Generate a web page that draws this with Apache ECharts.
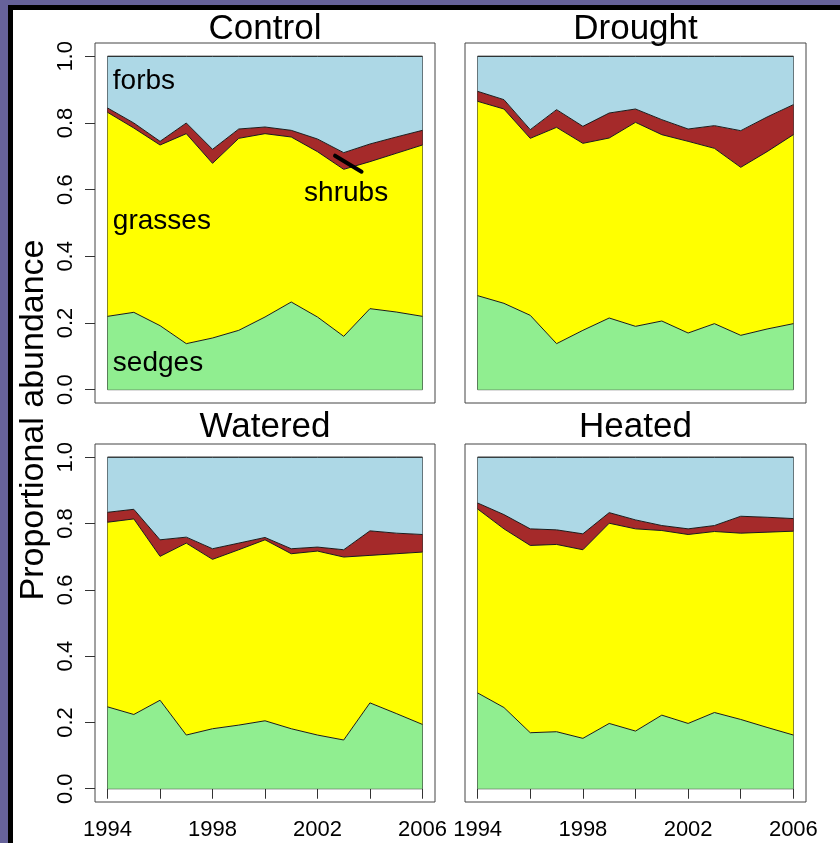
<!DOCTYPE html>
<html><head><meta charset="utf-8">
<script src="https://cdn.jsdelivr.net/npm/echarts@6/dist/echarts.min.js"></script>
<style>
html,body{margin:0;padding:0;width:840px;height:843px;overflow:hidden;background:#66629a;}
#frame{position:absolute;left:8px;top:5px;width:840px;height:850px;background:#fff;border-left:5px solid #000;border-top:5px solid #000;}
#chart{position:absolute;left:0;top:0;width:840px;height:843px;}
</style></head><body><div id="frame"></div><div id="chart"></div>
<script>
const years = [1994,1995,1996,1997,1998,1999,2000,2001,2002,2003,2004,2005,2006];
const yTicks = [0,0.2,0.4,0.6,0.8,1.0];
const xTicks = [1994,1996,1998,2000,2002,2004,2006];
const xLabels = [1994,1998,2002,2006];
const panelNames = ['Control','Drought','Watered','Heated'];
const groupNames = ['sedges','grasses','shrubs','forbs'];

const controlSedges  = [0.220,0.232,0.192,0.138,0.155,0.178,0.218,0.263,0.218,0.160,0.243,0.233,0.220];
const controlGrasses = [0.612,0.553,0.542,0.630,0.524,0.576,0.550,0.495,0.496,0.501,0.441,0.476,0.514];
const controlShrubs  = [0.013,0.015,0.011,0.032,0.042,0.028,0.020,0.020,0.038,0.050,0.053,0.049,0.044];
const controlForbs   = [0.155,0.200,0.255,0.200,0.279,0.218,0.212,0.222,0.248,0.289,0.263,0.242,0.222];

const droughtSedges  = [0.282,0.259,0.223,0.138,0.178,0.215,0.190,0.206,0.170,0.198,0.163,0.182,0.198];
const droughtGrasses = [0.583,0.583,0.531,0.649,0.561,0.540,0.612,0.559,0.575,0.526,0.504,0.532,0.567];
const droughtShrubs  = [0.030,0.028,0.026,0.053,0.051,0.075,0.040,0.045,0.037,0.068,0.110,0.104,0.090];
const droughtForbs   = [0.105,0.130,0.220,0.160,0.210,0.170,0.158,0.190,0.218,0.208,0.223,0.182,0.145];

const wateredSedges  = [0.247,0.224,0.267,0.162,0.181,0.192,0.205,0.181,0.162,0.147,0.259,0.227,0.194];
const wateredGrasses = [0.557,0.590,0.434,0.579,0.511,0.529,0.546,0.528,0.555,0.552,0.445,0.482,0.520];
const wateredShrubs  = [0.030,0.029,0.050,0.018,0.032,0.020,0.007,0.015,0.012,0.022,0.074,0.062,0.053];
const wateredForbs   = [0.166,0.157,0.249,0.241,0.276,0.259,0.242,0.276,0.271,0.279,0.222,0.229,0.233];

const heatedSedges   = [0.289,0.245,0.169,0.172,0.152,0.197,0.174,0.222,0.197,0.230,0.209,0.185,0.162];
const heatedGrasses  = [0.555,0.539,0.565,0.565,0.569,0.604,0.610,0.557,0.570,0.546,0.562,0.589,0.615];
const heatedShrubs   = [0.018,0.043,0.050,0.044,0.048,0.032,0.027,0.015,0.017,0.018,0.051,0.045,0.038];
const heatedForbs    = [0.138,0.173,0.216,0.219,0.231,0.167,0.189,0.206,0.216,0.206,0.178,0.181,0.185];

const panelData = [
  [controlSedges, controlGrasses, controlShrubs, controlForbs],
  [droughtSedges, droughtGrasses, droughtShrubs, droughtForbs],
  [wateredSedges, wateredGrasses, wateredShrubs, wateredForbs],
  [heatedSedges, heatedGrasses, heatedShrubs, heatedForbs]
];

const groupColors = ['#90EE90','#FFFF00','#A52A2A','#ADD8E6'];
const FONT = 'Liberation Sans, Arial, sans-serif';

const gridDefs = [
  {left:95, top:43, width:340, height:360},
  {left:465, top:43, width:341, height:360},
  {left:95, top:444, width:340, height:358},
  {left:465, top:444, width:341, height:358}
];
const titleDefs = [
  {left:265, top:12},{left:635.5, top:12},{left:265, top:410},{left:635.5, top:410}
];

const chart = echarts.init(document.getElementById('chart'), null, {renderer:'canvas'});

const grid = gridDefs.map(g => Object.assign({show:true, borderColor:'#444', borderWidth:1, backgroundColor:'transparent', containLabel:false}, g));

const xAxis = gridDefs.map((g,i) => ({
  type:'value', gridIndex:i, min:1993.52, max:2006.48,
  splitLine:{show:false}, axisLine:{show:false},
  axisTick:{show:i>=2, customValues:xTicks, length:10, lineStyle:{color:'#333', width:1}},
  axisLabel:{show:i>=2, customValues:xLabels, fontSize:22, color:'#000', fontFamily:FONT, margin:17, formatter:v=>String(v)}
}));
const yAxis = gridDefs.map((g,i) => ({
  type:'value', gridIndex:i, min:-0.04, max:1.04,
  splitLine:{show:false}, axisLine:{show:false},
  axisTick:{show:i%2===0, customValues:yTicks, length:10, lineStyle:{color:'#333', width:1}},
  axisLabel:{show:i%2===0, customValues:yTicks, rotate:90, fontSize:22, color:'#000', fontFamily:FONT, margin:18, formatter:v=>v.toFixed(1)}
}));

const series = [];
panelData.forEach((groups, i) => {
  groups.forEach((vals, gi) => {
    series.push({
      type:'line', name:groupNames[gi], xAxisIndex:i, yAxisIndex:i, stack:'panel'+i,
      // value first so that the stack is applied to the y dimension
      data: years.map((y,k)=>[vals[k], y]),
      encode:{x:1, y:0},
      symbol:'none', silent:true, animation:false,
      lineStyle:{color:'#1a1a1a', width:1},
      itemStyle:{color:groupColors[gi]},
      areaStyle:{color:groupColors[gi], opacity:1}
    });
  });
  series.push({
    type:'line', xAxisIndex:i, yAxisIndex:i, data:[], silent:true, animation:false, z:5,
    markArea:{silent:true, itemStyle:{color:'rgba(0,0,0,0)', borderColor:'#222', borderWidth:1},
      data:[[{coord:[years[0],0]},{coord:[years[years.length-1],1]}]]}
  });
});

// annotations on Control panel
const annLabel = {show:true, position:'right', distance:0, fontSize:28, color:'#000', fontFamily:FONT, formatter:p=>p.name};
series.push({
  type:'line', xAxisIndex:0, yAxisIndex:0, data:[], silent:true, animation:false, z:6,
  markPoint:{silent:true, symbol:'circle', symbolSize:0, label:annLabel,
    data:[
      {name:'forbs', coord:[1994.2,0.925]},
      {name:'grasses', coord:[1994.2,0.505]},
      {name:'sedges', coord:[1994.2,0.078]},
      {name:'shrubs', coord:[2001.49,0.59]}
    ]},
  markLine:{silent:true, symbol:['none','none'], label:{show:false},
    lineStyle:{color:'#000', width:4, type:'solid', cap:'round'},
    data:[[{coord:[2002.67,0.702]},{coord:[2003.68,0.654]}]]}
});

const title = panelNames.map((n,i)=>({
  text:n, left:titleDefs[i].left, top:titleDefs[i].top, textAlign:'center', padding:0,
  textStyle:{fontSize:35, fontWeight:'normal', color:'#000', fontFamily:FONT}
}));

chart.setOption({
  animation:false,
  backgroundColor:'transparent',
  title, grid, xAxis, yAxis, series,
  graphic:[{
    type:'text', x:34, y:420, rotation:Math.PI/2, silent:true,
    style:{text:'Proportional abundance', font:'34px '+FONT, fill:'#000', textAlign:'center', textVerticalAlign:'middle'}
  }]
});
</script></body></html>
